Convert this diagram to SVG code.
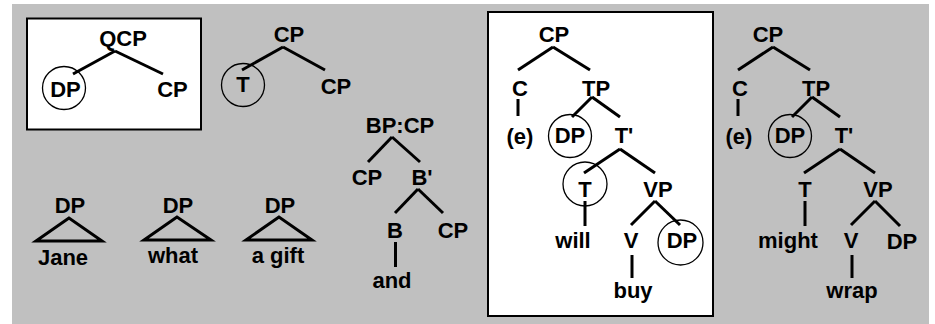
<svg xmlns="http://www.w3.org/2000/svg" width="935" height="324" viewBox="0 0 935 324">
<style>
.t{font-family:"Liberation Sans",Arial,Helvetica,sans-serif;font-weight:bold;font-size:22px;text-anchor:middle;fill:#000}
.e{fill:none;stroke:#000;stroke-width:3}
.c{fill:none;stroke:#000;stroke-width:1.3}
.box{fill:#fff;stroke:#000;stroke-width:2}
</style>
<rect x="12" y="4" width="917" height="320" fill="#c0c0c0"/>
<rect class="box" x="27" y="18.5" width="174" height="111"/>
<rect class="box" x="488" y="12" width="225" height="304"/>
<g id="connectors">
  <line class="e" x1="115" y1="51" x2="73" y2="74"/>
  <line class="e" x1="115" y1="51" x2="163" y2="74"/>
  <line class="e" x1="283" y1="47" x2="242" y2="70"/>
  <line class="e" x1="283" y1="47" x2="325" y2="70"/>
  <line class="e" x1="392" y1="137" x2="368" y2="162"/>
  <line class="e" x1="392" y1="137" x2="420" y2="162"/>
  <line class="e" x1="418" y1="189" x2="395" y2="213"/>
  <line class="e" x1="418" y1="189" x2="443" y2="213"/>
  <line class="e" x1="395.5" y1="242" x2="395.5" y2="267"/>
  <polygon class="e" points="69,218 36,241 102,241"/>
  <polygon class="e" points="177,217 144,240 211,240"/>
  <polygon class="e" points="279,217 246,240 312,240"/>
  <line class="e" x1="553" y1="47" x2="518" y2="70"/>
  <line class="e" x1="553" y1="47" x2="590" y2="70"/>
  <line class="e" x1="518" y1="99" x2="518" y2="116"/>
  <line class="e" x1="592" y1="97" x2="572" y2="117"/>
  <line class="e" x1="592" y1="97" x2="620" y2="117"/>
  <line class="e" x1="620" y1="149" x2="584" y2="173"/>
  <line class="e" x1="620" y1="149" x2="655" y2="173"/>
  <line class="e" x1="585" y1="201" x2="585" y2="226"/>
  <line class="e" x1="655" y1="201" x2="631" y2="225"/>
  <line class="e" x1="655" y1="201" x2="680" y2="225"/>
  <line class="e" x1="632" y1="255" x2="632" y2="278"/>
  <line class="e" x1="773" y1="47" x2="738" y2="70"/>
  <line class="e" x1="773" y1="47" x2="810" y2="70"/>
  <line class="e" x1="738" y1="99" x2="738" y2="116"/>
  <line class="e" x1="812" y1="97" x2="792" y2="117"/>
  <line class="e" x1="812" y1="97" x2="840" y2="117"/>
  <line class="e" x1="840" y1="149" x2="804" y2="173"/>
  <line class="e" x1="840" y1="149" x2="875" y2="173"/>
  <line class="e" x1="805" y1="201" x2="805" y2="226"/>
  <line class="e" x1="875" y1="201" x2="851" y2="225"/>
  <line class="e" x1="875" y1="201" x2="900" y2="226"/>
  <line class="e" x1="852" y1="255" x2="852" y2="278"/>
</g>
<g id="t1-qcp"><text class="t" x="123" y="46">QCP</text></g>
<g id="t1-dp"><circle class="c" cx="64" cy="88" r="21.5"/><text class="t" x="65.5" y="97">DP</text></g>
<g id="t1-cp"><text class="t" x="172.5" y="97">CP</text></g>
<g id="t2-cp"><text class="t" x="289" y="42">CP</text></g>
<g id="t2-t"><circle class="c" cx="243" cy="85" r="21.5"/><text class="t" x="243" y="92">T</text></g>
<g id="t2-cp2"><text class="t" x="336" y="94">CP</text></g>
<g id="bp-root"><text class="t" x="400" y="133">BP:CP</text></g>
<g id="bp-cp"><text class="t" x="367" y="185">CP</text></g>
<g id="bp-bbar"><text class="t" x="422" y="185">B'</text></g>
<g id="bp-b"><text class="t" x="395" y="238">B</text></g>
<g id="bp-cp2"><text class="t" x="453" y="238">CP</text></g>
<g id="bp-and"><text class="t" x="392" y="288">and</text></g>
<g id="dp-jane"><text class="t" x="70" y="213">DP</text><text class="t" x="63" y="265">Jane</text></g>
<g id="dp-what"><text class="t" x="178" y="213">DP</text><text class="t" x="173" y="263">what</text></g>
<g id="dp-gift"><text class="t" x="280" y="213">DP</text><text class="t" x="278" y="263">a gift</text></g>
<g id="t3-cp"><text class="t" x="554" y="42">CP</text></g>
<g id="t3-c"><text class="t" x="520" y="96">C</text></g>
<g id="t3-e"><text class="t" x="520" y="144">(e)</text></g>
<g id="t3-tp"><text class="t" x="596" y="96">TP</text></g>
<g id="t3-dp"><circle class="c" cx="570" cy="136" r="21.5"/><text class="t" x="570" y="143">DP</text></g>
<g id="t3-tbar"><text class="t" x="624" y="143">T'</text></g>
<g id="t3-t"><circle class="c" cx="585" cy="184" r="22"/><text class="t" x="585" y="197">T</text></g>
<g id="t3-vp"><text class="t" x="658" y="197">VP</text></g>
<g id="t3-will"><text class="t" x="573" y="248">will</text></g>
<g id="t3-v"><text class="t" x="631" y="248">V</text></g>
<g id="t3-dp2"><circle class="c" cx="680.5" cy="242.5" r="22.5"/><text class="t" x="682" y="248">DP</text></g>
<g id="t3-buy"><text class="t" x="633" y="298">buy</text></g>
<g id="t4-cp"><text class="t" x="768" y="42">CP</text></g>
<g id="t4-c"><text class="t" x="740" y="96">C</text></g>
<g id="t4-e"><text class="t" x="739" y="144">(e)</text></g>
<g id="t4-tp"><text class="t" x="816" y="96">TP</text></g>
<g id="t4-dp"><circle class="c" cx="790" cy="136" r="21.5"/><text class="t" x="790" y="143">DP</text></g>
<g id="t4-tbar"><text class="t" x="844" y="143">T'</text></g>
<g id="t4-t"><text class="t" x="805" y="197">T</text></g>
<g id="t4-vp"><text class="t" x="878" y="197">VP</text></g>
<g id="t4-might"><text class="t" x="788" y="248">might</text></g>
<g id="t4-v"><text class="t" x="851" y="248">V</text></g>
<g id="t4-dp2"><text class="t" x="902" y="249">DP</text></g>
<g id="t4-wrap"><text class="t" x="852" y="298">wrap</text></g>
</svg>
